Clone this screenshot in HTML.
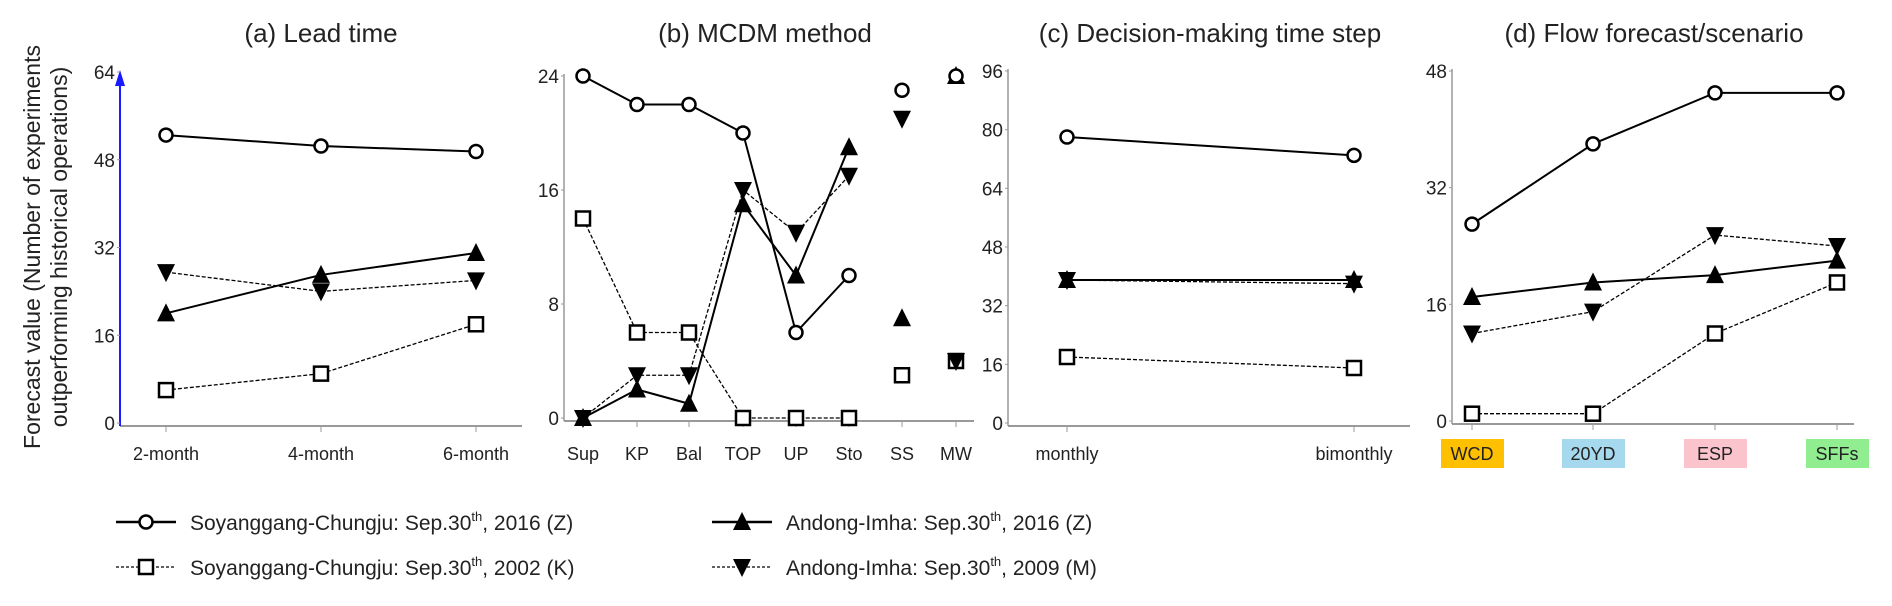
<!DOCTYPE html>
<html><head><meta charset="utf-8"><style>
body{margin:0;background:#fff;}
svg{display:block;font-family:"Liberation Sans",sans-serif;}
</style></head><body>
<svg id="chart" width="1892" height="606" viewBox="0 0 1892 606">
<g id="root"></g>
<text x="42" y="247" transform="rotate(-90 42 247)" text-anchor="middle" font-size="23" fill="#222"><tspan x="42" dy="-2">Forecast value (Number of experiments</tspan><tspan x="42" dy="27">outperforming historical operations)</tspan></text>
</svg>
<script>
// Series order: circle (Soyanggang 2016 Z), square (Soyanggang 2002 K), triUp (Andong 2016 Z), triDown (Andong 2009 M)
const catsA = ["2-month","4-month","6-month"];
const circA = [52.5,50.5,49.5];
const sqA = [6,9,18];
const upA = [20,27,31];
const dnA = [27.5,24,26];
const ticksA = [0,16,32,48,64];

const catsB = ["Sup","KP","Bal","TOP","UP","Sto","SS","MW"];
const circB = [24,22,22,20,6,10,23,24];
const sqB = [14,6,6,0,0,0,3,4];
const upB = [0,2,1,15,10,19,7,24];
const dnB = [0,3,3,16,13,17,21,4];
const ticksB = [0,8,16,24];

const catsC = ["monthly","bimonthly"];
const circC = [78,73];
const sqC = [18,15];
const upC = [39,39];
const dnC = [39,38];
const ticksC = [0,16,32,48,64,80,96];

const catsD = ["WCD","20YD","ESP","SFFs"];
const circD = [27,38,45,45];
const sqD = [1,1,12,19];
const upD = [17,19,20,22];
const dnD = [12,15,25.5,24];
const ticksD = [0,16,32,48];
const boxColors = ["#ffc000","#a6d8ee","#fbc4cc","#90ee90"];

const NS="http://www.w3.org/2000/svg";
const root=document.getElementById('root');
function mk(tag,attrs,parent){const e=document.createElementNS(NS,tag);for(const k in attrs)e.setAttribute(k,attrs[k]);(parent||root).appendChild(e);return e;}

const panels=[
 {id:"a",title:"(a) Lead time",tx:321,ax:120,xEnd:522,y0:423,yTop:72,max:64,xs:[166,321,476],cats:catsA,c:circA,s:sqA,u:upA,d:dnA,ticks:ticksA,nLine:3,blue:true},
 {id:"b",title:"(b) MCDM method",tx:765,ax:564,xEnd:974,y0:418,yTop:76,max:24,xs:[583,637,689,743,796,849,902,956],cats:catsB,c:circB,s:sqB,u:upB,d:dnB,ticks:ticksB,nLine:6},
 {id:"c",title:"(c) Decision-making time step",tx:1210,ax:1008,xEnd:1410,y0:423,yTop:71,max:96,xs:[1067,1354],cats:catsC,c:circC,s:sqC,u:upC,d:dnC,ticks:ticksC,nLine:2},
 {id:"d",title:"(d) Flow forecast/scenario",tx:1654,ax:1452,xEnd:1854,y0:421,yTop:71,max:48,xs:[1472,1593,1715,1837],cats:catsD,c:circD,s:sqD,u:upD,d:dnD,ticks:ticksD,nLine:4,boxes:true}
];

function marker(type,x,y,g,name){
 let e;
 if(type==="c") e=mk('circle',{cx:x,cy:y,r:6.5,fill:'#fff',stroke:'#000','stroke-width':2.5},g);
 else if(type==="s") e=mk('rect',{x:x-7,y:y-7,width:14,height:14,fill:'#fff',stroke:'#000','stroke-width':2.5},g);
 else if(type==="u") e=mk('path',{d:`M${x-9},${y+8} L${x+9},${y+8} L${x},${y-10} Z`,fill:'#000'},g);
 else e=mk('path',{d:`M${x-9},${y-8} L${x+9},${y-8} L${x},${y+10} Z`,fill:'#000'},g);
 
 
}

panels.forEach(p=>{
 const g=mk('g',{});
 
 
 const yS=v=>p.y0-(v/p.max)*(p.y0-p.yTop);
 const t=mk('text',{x:p.tx,y:42,'text-anchor':'middle','font-size':26,fill:'#222'},g);t.textContent=p.title;
 
 
 const xa=mk('line',{x1:p.ax,y1:p.y0+3,x2:p.xEnd,y2:p.y0+3,stroke:'#999','stroke-width':2},g);
 
 
 let ya;
 if(p.blue){
  ya=mk('line',{x1:p.ax,y1:p.y0+3,x2:p.ax,y2:p.yTop+10,stroke:'#1a1aff','stroke-width':2},g);
  const ah=mk('path',{d:`M${p.ax-5},${p.yTop+14} L${p.ax+5},${p.yTop+14} L${p.ax},${p.yTop-2} Z`,fill:'#1a1aff'},g);
  
  
 }
 else ya=mk('line',{x1:p.ax,y1:p.y0+3,x2:p.ax,y2:p.yTop-2,stroke:'#999','stroke-width':1.5},g);
 
 
 p.ticks.forEach(v=>{
  const y=yS(v);
  mk('line',{x1:p.ax-3,y1:y,x2:p.ax,y2:y,stroke:'#999','stroke-width':1},g);
  const tl=mk('text',{x:p.ax-5,y:y+7,'text-anchor':'end','font-size':19,fill:'#222'},g);tl.textContent=v;
  
  
 });
 p.cats.forEach((c,i)=>{
  const x=p.xs[i];
  mk('line',{x1:x,y1:p.y0+3,x2:x,y2:p.y0+9,stroke:'#999','stroke-width':1},g);
  if(p.boxes){
   const r=mk('rect',{x:x-31,y:439,width:63,height:29,fill:boxColors[i]},g);
   
   
  }
  const tl=mk('text',{x:x,y:460,'text-anchor':'middle','font-size':18,fill:'#222'},g);tl.textContent=c;
  
  
 });
 const series=[["s",p.s,"4,2",1.3],["d",p.d,"4,2",1.3],["u",p.u,null,2],["c",p.c,null,2]];
 series.forEach(([type,vals,dash,w])=>{
  const pts=vals.slice(0,p.nLine).map((v,i)=>p.xs[i]+','+yS(v)).join(' ');
  const a={points:pts,fill:'none',stroke:'#000','stroke-width':w};
  if(dash)a['stroke-dasharray']=dash;
  const pl=mk('polyline',a,g);
  
  
 });
 series.forEach(([type,vals])=>{vals.forEach((v,i)=>marker(type,p.xs[i],yS(v),g,'point-'+type));});
});

const leg=[
 {t:"c",x:116,y:522,dash:null,label:"Soyanggang-Chungju: Sep.30",yr:", 2016 (Z)"},
 {t:"s",x:116,y:567,dash:"3,2",label:"Soyanggang-Chungju: Sep.30",yr:", 2002 (K)"},
 {t:"u",x:712,y:522,dash:null,label:"Andong-Imha: Sep.30",yr:", 2016 (Z)"},
 {t:"d",x:712,y:567,dash:"3,2",label:"Andong-Imha: Sep.30",yr:", 2009 (M)"}
];
leg.forEach(l=>{
 const g=mk('g',{});
 
 
 const a={x1:l.x,y1:l.y,x2:l.x+60,y2:l.y,stroke:'#000','stroke-width':l.dash?1.3:2.5};
 if(l.dash)a['stroke-dasharray']=l.dash;
 mk('line',a,g);
 marker(l.t,l.x+30,l.y,g,'legend-marker');
 const tx=mk('text',{x:l.x+74,y:l.y+8,'font-size':21,fill:'#222'},g);
 tx.innerHTML=l.label+'<tspan font-size="13" dy="-9">th</tspan><tspan dy="9">'+l.yr+'</tspan>';
});
</script>
</body></html>
